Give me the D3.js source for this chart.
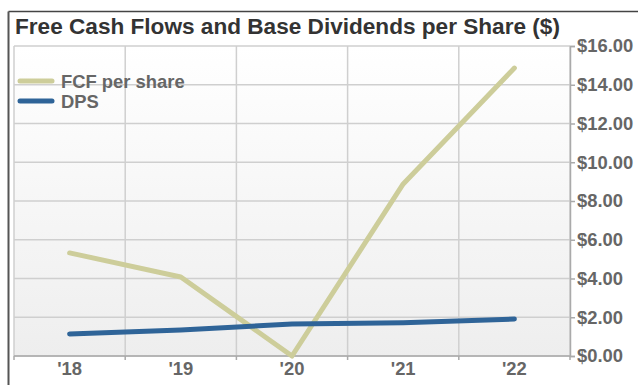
<!DOCTYPE html>
<html>
<head>
<meta charset="utf-8">
<script src="https://cdn.jsdelivr.net/npm/d3@7"></script>
<style>
  body { margin: 0; background: #fff; }
  svg { display: block; font-family: "Liberation Sans", Arial, sans-serif; }
</style>
</head>
<body>
<svg id="chart" width="638" height="385"></svg>
<script>
// Chart data
const years = ["'18", "'19", "'20", "'21", "'22"];
const fcfPerShare = [5.32, 4.08, 0.0, 8.88, 14.86];
const dps = [1.14, 1.34, 1.65, 1.72, 1.91];
const yTicks = [0, 2, 4, 6, 8, 10, 12, 14, 16];
const seriesNames = ["FCF per share", "DPS"];
const seriesColors = ["#cdcd9a", "#2f6498"];

let svg = d3.select("#chart");

// Plot area
let plotLeft = 14, plotRight = 570, plotTop = 46, plotBottom = 356;

let x = d3.scaleBand()
    .domain(years)
    .range([plotLeft, plotRight]);

let y = d3.scaleLinear()
    .domain([0, 16])
    .range([plotBottom, plotTop]);

// Background gradient
let defs = svg.append("defs");
let grad = defs.append("linearGradient")
    .attr("id", "bg")
    .attr("x1", 0).attr("y1", 0).attr("x2", 0).attr("y2", 1);
grad.append("stop").attr("offset", "0%").attr("stop-color", "#ffffff");
grad.append("stop").attr("offset", "100%").attr("stop-color", "#eeeeee");

// Outer frame (left and top)
svg.append("line")
    .attr("x1", 8.5).attr("x2", 638)
    .attr("y1", 11.5).attr("y2", 11.5)
    .style("stroke", "#444").style("stroke-width", 1.5);
svg.append("line")
    .attr("x1", 8.5).attr("x2", 8.5)
    .attr("y1", 11.5).attr("y2", 385)
    .style("stroke", "#555").style("stroke-width", 2);

// Title
svg.append("text")
    .attr("x", 15)
    .attr("y", 34)
    .style("font-size", "22.6px")
    .style("font-weight", "bold")
    .style("fill", "#333")
    .text("Free Cash Flows and Base Dividends per Share ($)");

svg.append("rect")
    .attr("x", plotLeft).attr("y", plotTop)
    .attr("width", plotRight - plotLeft).attr("height", plotBottom - plotTop)
    .style("fill", "url(#bg)");

// Horizontal grid lines
svg.selectAll(".hgrid")
    .data(yTicks)
    .enter().append("line")
    .attr("class", "hgrid")
    .attr("x1", plotLeft).attr("x2", plotRight)
    .attr("y1", d => y(d)).attr("y2", d => y(d))
    .style("stroke", "#cfcfcf")
    .style("stroke-width", 1.5);

// Vertical grid lines at band edges
let edges = years.map(d => x(d)).concat([plotRight]);
svg.selectAll(".vgrid")
    .data(edges)
    .enter().append("line")
    .attr("class", "vgrid")
    .attr("x1", d => d).attr("x2", d => d)
    .attr("y1", plotTop).attr("y2", plotBottom)
    .style("stroke", "#cfcfcf")
    .style("stroke-width", 1.5);

// Right y axis
let yAxis = svg.append("g")
    .attr("transform", "translate(" + plotRight + ",0)")
    .call(d3.axisRight(y).tickValues(yTicks).tickSize(5).tickPadding(2)
        .tickFormat(d => "$" + d3.format(".2f")(d)));
yAxis.select(".domain").style("stroke", "#aaa").style("stroke-width", 1.5);
yAxis.selectAll(".tick line").style("stroke", "#aaa").style("stroke-width", 1.5);
yAxis.selectAll("text")
    .style("font-size", "18.4px")
    .style("font-weight", "bold")
    .style("fill", "#666")
    .style("font-family", "'Liberation Sans', Arial, sans-serif");

// Bottom x axis
svg.append("line")
    .attr("x1", plotLeft).attr("x2", plotRight)
    .attr("y1", plotBottom).attr("y2", plotBottom)
    .style("stroke", "#aaa").style("stroke-width", 1.5);
svg.selectAll(".xtick")
    .data(edges)
    .enter().append("line")
    .attr("class", "xtick")
    .attr("x1", d => d).attr("x2", d => d)
    .attr("y1", plotBottom).attr("y2", plotBottom + 4)
    .style("stroke", "#aaa").style("stroke-width", 1.5);
svg.selectAll(".xlabel")
    .data(years)
    .enter().append("text")
    .attr("class", "xlabel")
    .attr("x", d => x(d) + x.bandwidth() / 2)
    .attr("y", 375)
    .attr("text-anchor", "middle")
    .style("font-size", "18.4px")
    .style("font-weight", "bold")
    .style("fill", "#666")
    .text(d => d);

// Series lines
let line = d3.line()
    .x((d, i) => x(years[i]) + x.bandwidth() / 2)
    .y(d => y(d));

[fcfPerShare, dps].forEach(function(values, k) {
    svg.append("path")
        .datum(values)
        .attr("d", line)
        .style("fill", "none")
        .style("stroke", seriesColors[k])
        .style("stroke-width", 5)
        .style("stroke-linecap", "round")
        .style("stroke-linejoin", "round");
});

// Legend
let legend = svg.selectAll(".legend")
    .data(seriesNames)
    .enter().append("g")
    .attr("class", "legend")
    .attr("transform", (d, i) => "translate(0," + (81 + i * 20) + ")");
legend.append("line")
    .attr("x1", 20).attr("x2", 52)
    .attr("y1", 0).attr("y2", 0)
    .style("stroke", (d, i) => seriesColors[i])
    .style("stroke-width", 5)
    .style("stroke-linecap", "round");
legend.append("text")
    .attr("x", 61)
    .attr("y", 0)
    .attr("dominant-baseline", "central")
    .style("font-size", "18.4px")
    .style("font-weight", "bold")
    .style("fill", "#666")
    .text(d => d);
</script>
</body>
</html>
